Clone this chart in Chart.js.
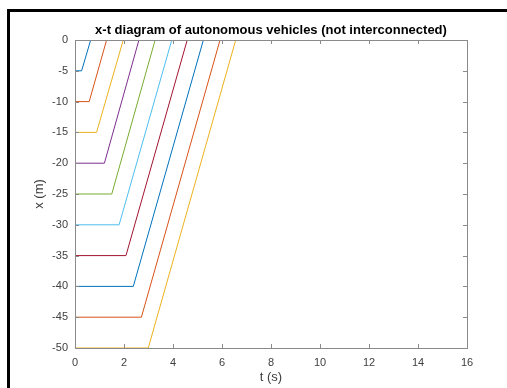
<!DOCTYPE html>
<html>
<head>
<meta charset="utf-8">
<title>x-t diagram</title>
<script src="https://cdn.jsdelivr.net/npm/chart.js@4.4.1/dist/chart.umd.min.js"></script>
<style>
  html, body { margin: 0; padding: 0; background: #fff; overflow: hidden; }
  #wrap { position: relative; width: 507px; height: 388px; }
  #frame {
    position: absolute; left: 7px; top: 9px; width: 600px; height: 500px;
    border-top: 3px solid #000; border-left: 3px solid #000; pointer-events: none;
  }
</style>
</head>
<body>
<div id="wrap">
  <canvas id="xt" width="507" height="388"></canvas>
  <div id="frame"></div>
</div>
<script>
// start position of each vehicle (m)
const startPositions = [-5, -10, -15, -20, -25, -30, -35, -40, -45, -50];
// time each vehicle starts moving (s)
const departTimes = [0.27, 0.58, 0.88, 1.20, 1.50, 1.80, 2.08, 2.38, 2.71, 2.99];
// time each vehicle reaches x = 0 (s)
const arrivalTimes = [0.64, 1.29, 1.97, 2.61, 3.27, 3.95, 4.58, 5.24, 5.92, 6.56];

const xTicks = [0, 2, 4, 6, 8, 10, 12, 14, 16];
const yTicks = [-50, -45, -40, -35, -30, -25, -20, -15, -10, -5, 0];

// matlab default color order
const colors = ['#0072BD', '#D95319', '#EDB120', '#7E2F8E', '#77AC30',
                '#4DBEEE', '#A2142F', '#0072BD', '#D95319', '#EDB120'];

const axisColor = '#8a8a8a';
const labelColor = '#404040';
const fontFamily = 'Arial, "Liberation Sans", Helvetica, sans-serif';

const datasets = startPositions.map((x0, i) => ({
  data: [
    { x: 0, y: x0 },
    { x: departTimes[i], y: x0 },
    { x: arrivalTimes[i], y: 0 }
  ],
  borderColor: colors[i],
  borderWidth: 1,
  pointRadius: 0,
  tension: 0,
  fill: false
}));

// box around the axes with inward ticks on all four sides
const axesBox = {
  id: 'axesBox',
  afterDatasetsDraw(chart) {
    const { ctx, chartArea: a, scales } = chart;
    const tl = 4;
    ctx.save();
    ctx.strokeStyle = axisColor;
    ctx.lineWidth = 1;
    ctx.beginPath();
    xTicks.forEach(v => {
      const px = Math.round(scales.x.getPixelForValue(v)) + 0.5;
      ctx.moveTo(px, a.bottom); ctx.lineTo(px, a.bottom - tl);
      ctx.moveTo(px, a.top); ctx.lineTo(px, a.top + tl);
    });
    yTicks.forEach(v => {
      const py = Math.round(scales.y.getPixelForValue(v)) + 0.5;
      ctx.moveTo(a.left, py); ctx.lineTo(a.left + tl, py);
      ctx.moveTo(a.right, py); ctx.lineTo(a.right - tl, py);
    });
    ctx.stroke();
    ctx.strokeRect(Math.round(a.left) + 0.5, Math.round(a.top) + 0.5,
                   Math.round(a.right - a.left), Math.round(a.bottom - a.top));
    ctx.restore();
  }
};

new Chart(document.getElementById('xt'), {
  type: 'line',
  data: { datasets },
  plugins: [axesBox],
  options: {
    responsive: false,
    animation: false,
    layout: { padding: { top: 0, right: 40, bottom: 0, left: 0 } },
    plugins: {
      legend: { display: false },
      tooltip: { enabled: false },
      title: {
        display: true,
        text: 'x-t diagram of autonomous vehicles (not interconnected)',
        fullSize: false,
        color: '#000',
        font: { family: fontFamily, size: 13, weight: 'bold' },
        padding: { top: 22.5, bottom: 1.9 }
      }
    },
    scales: {
      x: {
        type: 'linear',
        min: 0,
        max: 16,
        afterFit: s => { s.height = 40; },
        afterBuildTicks: s => { s.ticks = xTicks.map(v => ({ value: v })); },
        grid: { display: false, drawTicks: false },
        border: { display: false },
        ticks: { color: labelColor, padding: 8, maxRotation: 0, font: { family: fontFamily, size: 11 } },
        title: {
          display: true, text: 't (s)', color: labelColor,
          font: { family: fontFamily, size: 13 },
          padding: { top: 0, bottom: 2.5 }
        }
      },
      y: {
        type: 'linear',
        min: -50,
        max: 0,
        afterFit: s => { s.width = 75; },
        afterBuildTicks: s => { s.ticks = yTicks.map(v => ({ value: v })); },
        grid: { display: false, drawTicks: false },
        border: { display: false },
        ticks: { color: labelColor, padding: 7, font: { family: fontFamily, size: 11 } },
        title: {
          display: true, text: 'x (m)', color: labelColor,
          font: { family: fontFamily, size: 13 },
          padding: { top: 32, bottom: 0 }
        }
      }
    }
  }
});
</script>
</body>
</html>
